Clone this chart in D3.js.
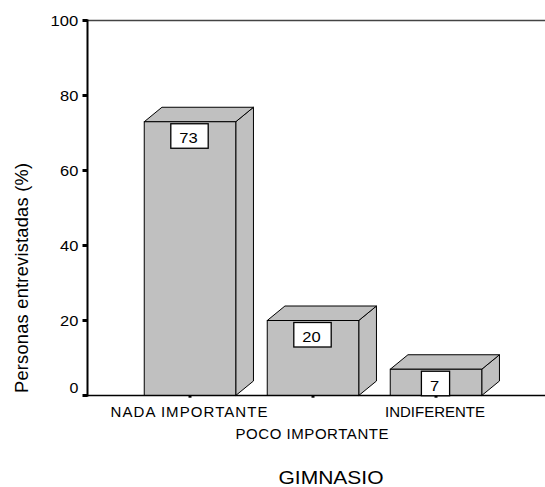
<!DOCTYPE html>
<html>
<head>
<meta charset="utf-8">
<script src="https://cdn.jsdelivr.net/npm/d3@7"></script>
<style>
  html, body { margin: 0; padding: 0; background: #fff; }
  svg { display: block; }
  text { font-family: "Liberation Sans", Arial, sans-serif; fill: #000; }
</style>
</head>
<body>
<svg id="chart" width="545" height="487"></svg>
<script>
// ---- data ----
const categories = ["NADA IMPORTANTE", "POCO IMPORTANTE", "INDIFERENTE"];
const values = [73, 20, 7];
const yTicks = [0, 20, 40, 60, 80, 100];
const yTitle = "Personas entrevistadas (%)";
const xTitle = "GIMNASIO";

// ---- layout ----
const W = 545, H = 487;
const axisX = 87.5;
const svg = d3.select("#chart");

const y = d3.scaleLinear().domain([0, 100]).range([395.5, 20.5]);
const x = d3.scaleBand().domain(categories).range([128.5, 497.5])
  .paddingInner(0.256).paddingOuter(0.128);

const depthX = 17.7, depthY = -14.5;
const barFill = "#c0c0c0";

// top frame line
svg.append("line")
  .attr("x1", axisX).attr("x2", W)
  .attr("y1", y(100)).attr("y2", y(100))
  .attr("stroke", "#444").attr("stroke-width", 1.5);

// bars (3D)
const bars = svg.append("g");
categories.forEach((c, i) => {
  const v = values[i];
  const x0 = x(c), x1 = x(c) + x.bandwidth();
  const yt = y(v), yb = y(0);
  const g = bars.append("g");
  g.append("path")
    .attr("d", `M${x1},${yb} L${x1},${yt} L${x1 + depthX},${yt + depthY} L${x1 + depthX},${yb + depthY} Z`)
    .attr("fill", barFill).attr("stroke", "#000").attr("stroke-width", 1);
  g.append("path")
    .attr("d", `M${x0},${yt} L${x0 + depthX},${yt + depthY} L${x1 + depthX},${yt + depthY} L${x1},${yt} Z`)
    .attr("fill", barFill).attr("stroke", "#000").attr("stroke-width", 1);
  g.append("rect")
    .attr("x", x0).attr("y", yt).attr("width", x.bandwidth()).attr("height", yb - yt)
    .attr("fill", barFill).attr("stroke", "#000").attr("stroke-width", 1);
});

// x axis line
svg.append("line")
  .attr("x1", axisX - 1).attr("x2", W)
  .attr("y1", y(0)).attr("y2", y(0))
  .attr("stroke", "#000").attr("stroke-width", 1.7);

// x ticks (small marks)
categories.forEach(c => {
  svg.append("rect")
    .attr("x", x(c) + x.bandwidth() / 2 - 1.5).attr("y", y(0))
    .attr("width", 3).attr("height", 2.2).attr("fill", "#000");
});

// y axis line
svg.append("line")
  .attr("x1", axisX).attr("x2", axisX)
  .attr("y1", y(100) - 1).attr("y2", y(0) + 1)
  .attr("stroke", "#000").attr("stroke-width", 2);

// y ticks and labels
yTicks.forEach(t => {
  svg.append("rect")
    .attr("x", axisX - 5).attr("y", y(t) - 1.5)
    .attr("width", 5).attr("height", 3).attr("fill", "#000");
  const s = String(t);
  svg.append("text")
    .attr("x", 78.3)
    .attr("y", t === 0 ? 393.3 : y(t) + 5.5)
    .attr("text-anchor", "end")
    .attr("font-size", 15.5)
    .attr("textLength", s.length * 9.4 - 0.5)
    .attr("lengthAdjust", "spacingAndGlyphs")
    .text(s);
});

// value label boxes
categories.forEach((c, i) => {
  const v = values[i];
  const s = String(v);
  const cx = x(c) + x.bandwidth() / 2 - 0.5;
  const tw = s.length * 9.2;
  const bw = tw + 19;
  const top = y(v) + 2;
  svg.append("rect")
    .attr("x", cx - bw / 2).attr("y", top)
    .attr("width", bw).attr("height", 24.5)
    .attr("fill", "#fff").attr("stroke", "#000").attr("stroke-width", 1.3);
  svg.append("text")
    .attr("x", cx - 1).attr("y", top + 19.3)
    .attr("text-anchor", "middle")
    .attr("font-size", 15.5)
    .attr("textLength", tw)
    .attr("lengthAdjust", "spacingAndGlyphs")
    .text(s);
});

// category labels (staggered)
const labelLen = [157, 153, 100];
categories.forEach((c, i) => {
  svg.append("text")
    .attr("x", x(c) + x.bandwidth() / 2 - 1)
    .attr("y", i === 1 ? 439.3 : 416.5)
    .attr("text-anchor", "middle")
    .attr("font-size", 15)
    .attr("textLength", labelLen[i])
    .text(c);
});

// y title
svg.append("text")
  .attr("transform", `translate(28.3, 278) rotate(-90)`)
  .attr("text-anchor", "middle")
  .attr("font-size", 18.2)
  .attr("textLength", 230)
  .text(yTitle);

// x title
svg.append("text")
  .attr("x", 331).attr("y", 484)
  .attr("text-anchor", "middle")
  .attr("font-size", 17.5)
  .attr("textLength", 105)
  .attr("lengthAdjust", "spacingAndGlyphs")
  .text(xTitle);
</script>
</body>
</html>
